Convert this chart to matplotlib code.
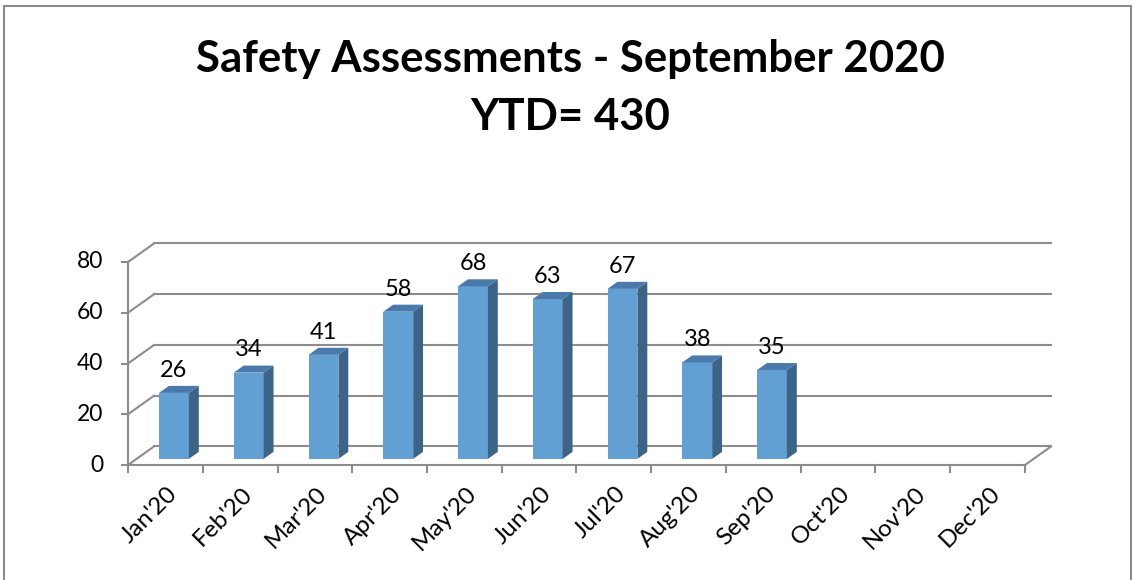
import numpy as np
import matplotlib
matplotlib.use('Agg')
import matplotlib.pyplot as plt
from matplotlib.patches import Polygon, Rectangle

plt.rcParams['font.family'] = ['Lato', 'DejaVu Sans']

# data
months = ["Jan'20", "Feb'20", "Mar'20", "Apr'20", "May'20", "Jun'20",
          "Jul'20", "Aug'20", "Sep'20", "Oct'20", "Nov'20", "Dec'20"]
counts = [26, 34, 41, 58, 68, 63, 67, 38, 35]
yticks = [0, 20, 40, 60, 80]
title1 = 'Safety Assessments - September 2020'
title2 = 'YTD= 430'

# pseudo 3d settings (data units)
DX = 0.348   # depth in category units
DY = 7.3     # depth in value units
ymax = 80
n = len(months)
bar_w = 0.40
f_front = 0.33   # bar front face depth
f_side = 0.38    # bar depth
grid_c = '#8c8c8c'
c_front = '#629fd3'
c_side = '#3d6386'
c_top = '#4a7aab'

W, H = 1133, 580
fig = plt.figure(figsize=(W / 100, H / 100), dpi=100)

# axes placed in pixels: front-left-bottom at (128, 465)
px_cat = 74.75
px_val = 2.5375
left = 128
bottom = 465
width = (n + DX) * px_cat
height = (ymax + DY) * px_val
ax = fig.add_axes([left / W, (H - bottom) / H, width / W, height / H])
ax.set_xlim(0, n + DX)
ax.set_ylim(0, ymax + DY)
ax.axis('off')

# walls: back gridlines and left diagonals
for v in yticks:
    ax.plot([DX, n + DX], [v + DY, v + DY], color=grid_c, lw=1.5, clip_on=False, zorder=1)
    ax.plot([0, DX], [v, v + DY], color=grid_c, lw=1.5, clip_on=False, zorder=1)
    ax.plot([-0.08, 0], [v, v], color=grid_c, lw=1.5, clip_on=False, zorder=1)
    ax.text(-0.33, v, str(v), ha='right', va='center', fontsize=16.5, clip_on=False)
# front axis and floor
ax.plot([0, 0], [0, ymax], color=grid_c, lw=1.5, clip_on=False, zorder=1)
ax.plot([0, n], [0, 0], color=grid_c, lw=1.5, clip_on=False, zorder=1)
ax.plot([n, n + DX], [0, DY], color=grid_c, lw=1.5, clip_on=False, zorder=1)
for k in range(n + 1):
    ax.plot([k, k], [0, -2.8], color=grid_c, lw=1.5, clip_on=False, zorder=1)
for k, m in enumerate(months):
    ax.text(k + 0.52, -7.0, m, ha='right', va='top', rotation=45,
            rotation_mode='anchor', fontsize=17.5, clip_on=False)

# bars
for k, v in enumerate(counts):
    x0 = k + 0.5 - bar_w / 2 + f_front * DX
    x1 = x0 + bar_w
    y0 = f_front * DY
    y1 = v + y0
    ddx = f_side * DX
    ddy = f_side * DY
    ax.add_patch(Rectangle((x0, y0), bar_w, v, facecolor=c_front, edgecolor='none', zorder=3))
    ax.add_patch(Polygon([(x1, y0), (x1 + ddx, y0 + ddy), (x1 + ddx, y1 + ddy), (x1, y1)],
                         closed=True, facecolor=c_side, edgecolor='none', zorder=3))
    ax.add_patch(Polygon([(x0, y1), (x1, y1), (x1 + ddx, y1 + ddy), (x0 + ddx, y1 + ddy)],
                         closed=True, facecolor=c_top, edgecolor='none', zorder=3))
    ax.text(k + 0.5 + f_front * DX, y1 + ddy + 2.0, str(v), ha='center', va='bottom',
            fontsize=17, zorder=4)

# title
fig.text(570 / W, 1 - 72 / H, title1, ha='center', va='baseline', fontsize=31.5,
         fontweight='bold')
fig.text(570 / W, 1 - 130 / H, title2, ha='center', va='baseline', fontsize=31.5,
         fontweight='bold')

# chart frame
fig.patches.append(Rectangle((4 / W, -0.01), (1131 - 4) / W, 1 - 6 / H + 0.01,
                             transform=fig.transFigure, fill=False,
                             edgecolor='#8c8c8c', lw=1.5))

fig.savefig('out.png', dpi=100)
